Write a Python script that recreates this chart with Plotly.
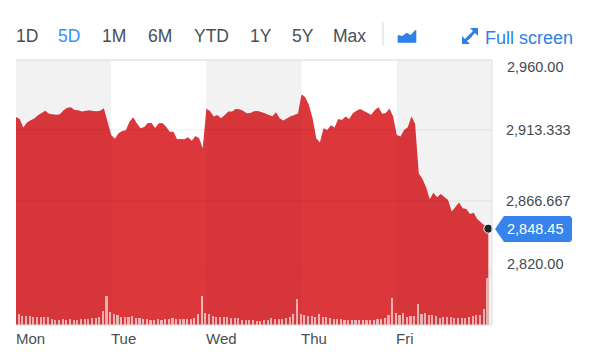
import plotly.graph_objects as go

# ---------- data ----------
price_mon = [2921.9, 2920.6, 2914.9, 2918.2, 2919.7, 2920.8, 2923.0, 2924.5, 2926.0, 2923.9, 2923.4, 2923.4, 2923.6,
             2926.3, 2928.0, 2928.2, 2926.5, 2926.3, 2925.4, 2925.8, 2926.3, 2925.8, 2925.6, 2926.0, 2927.6, 2918.8]
price_tue = [2910.0, 2907.6, 2911.1, 2912.7, 2913.1, 2918.8, 2921.7, 2917.7, 2914.4, 2915.3, 2917.9, 2917.9, 2914.6,
             2917.7, 2917.9, 2915.5, 2912.2, 2912.2, 2907.2, 2907.4, 2907.2, 2908.5, 2906.3, 2909.4, 2907.9, 2901.3]
price_wed = [2927.4, 2925.6, 2922.1, 2923.2, 2921.0, 2923.2, 2925.4, 2925.4, 2927.1, 2926.9, 2926.0, 2924.3, 2924.5,
             2925.6, 2925.8, 2925.2, 2924.1, 2923.0, 2922.3, 2924.9, 2921.0, 2919.5, 2921.0, 2922.3, 2923.2, 2924.1]
price_thu = [2936.8, 2934.8, 2929.8, 2921.0, 2907.9, 2905.2, 2914.4, 2913.3, 2916.4, 2914.9, 2920.6, 2919.9, 2922.1,
             2920.6, 2924.3, 2926.0, 2927.1, 2926.0, 2924.7, 2923.4, 2926.5, 2928.2, 2923.9, 2924.5, 2927.4, 2922.1]
price_fri = [2910.0, 2909.0, 2913.3, 2915.1, 2922.3, 2917.3, 2884.9, 2881.1, 2875.6, 2867.8, 2872.1, 2869.1, 2871.3,
             2869.5, 2867.3, 2859.7, 2862.9, 2865.6, 2861.9, 2861.4, 2858.1, 2859.0, 2854.6, 2852.4, 2850.7, 2848.45]

vol_mon = [40, 34, 28, 27, 26, 23, 23, 23, 23, 23, 18, 16, 15, 18, 16, 18, 15, 14, 17, 17, 17, 21, 21, 24, 41, 86]
vol_tue = [38, 33, 31, 25, 24, 24, 27, 21, 21, 18, 17, 16, 15, 18, 15, 17, 17, 20, 17, 18, 18, 17, 18, 22, 33, 86]
vol_wed = [37, 33, 28, 24, 25, 23, 23, 21, 22, 20, 15, 15, 15, 14, 13, 13, 15, 15, 22, 18, 18, 18, 21, 23, 33, 78]
vol_thu = [33, 30, 27, 26, 24, 32, 25, 25, 20, 18, 17, 17, 14, 14, 14, 14, 14, 15, 16, 14, 14, 17, 19, 20, 30, 80]
vol_fri = [36, 30, 35, 24, 27, 26, 62, 34, 36, 30, 30, 26, 20, 24, 24, 23, 22, 20, 20, 20, 24, 26, 30, 30, 47, 140]

day_labels = ["Mon", "Tue", "Wed", "Thu", "Fri"]
tick_values = [2913.333, 2866.667, 2820.0]
tick_labels = ["2,913.333", "2,866.667", "2,820.00"]
top_tick_label = "2,960.00"
last_label = "2,848.45"
range_buttons = ["1D", "5D", "1M", "6M", "YTD", "1Y", "5Y", "Max"]

# ---------- derived ----------
POINTS_PER_DAY = 26
prices = price_mon + price_tue + price_wed + price_thu + price_fri
volumes = vol_mon + vol_tue + vol_wed + vol_thu + vol_fri
xs = list(range(len(prices)))
day_starts = [i * POINTS_PER_DAY for i in range(len(day_labels))]

W, H = 600, 354
L, R, T, B = 16, 108, 60, 29
PW, PH = W - L - R, H - T - B


def px(x):
    return (x - L) / PW


def py(y):
    return 1 - (y - T) / PH


def path(points):
    return "M " + " L ".join(f"{px(a):.5f},{py(b):.5f}" for a, b in points) + " Z"


BLUE = "#2f7fe8"
DARK = "#474f57"
LABEL = "#45494f"
FONT = "Liberation Sans, Helvetica, Arial, sans-serif"

fig = go.Figure()
fig.add_trace(go.Scatter(x=xs, y=prices, mode="lines", line=dict(width=0), fill="tozeroy",
                         fillcolor="rgba(219,50,54,0.97)", hoverinfo="skip", showlegend=False))
fig.add_trace(go.Bar(x=xs, y=volumes, yaxis="y2", width=0.58, offset=-0.56,
                     marker=dict(color="rgba(255,255,255,0.62)", line=dict(width=0)),
                     hoverinfo="skip", showlegend=False))
fig.add_trace(go.Scatter(x=xs[-1:], y=prices[-1:], mode="markers",
                         marker=dict(size=9, color="#222427", line=dict(color="white", width=1)),
                         hoverinfo="skip", showlegend=False, cliponaxis=False))

shapes = []
# shaded alternate days: gray behind the area, a faint veil over it
for i in (0, 2, 4):
    x0, x1 = day_starts[i] - 0.02, day_starts[i] + POINTS_PER_DAY if i < 4 else len(xs)
    shapes.append(dict(type="rect", xref="x", yref="paper", x0=x0, x1=x1, y0=0, y1=1, layer="below",
                       line=dict(width=0), fillcolor="#f8f8f8"))
    shapes.append(dict(type="rect", xref="x", yref="paper", x0=x0, x1=x1, y0=0, y1=1, layer="above",
                       line=dict(width=0), fillcolor="rgba(10,10,20,0.022)"))
# grid lines
for v in tick_values:
    shapes.append(dict(type="line", xref="paper", yref="y", x0=0, x1=1, y0=v, y1=v, layer="above",
                       line=dict(color="rgba(40,20,40,0.08)", width=1)))
# plot frame
frame = "#d8d9de"
shapes += [
    dict(type="line", xref="paper", yref="paper", x0=0, x1=1, y0=1, y1=1, line=dict(color=frame, width=1.2)),
    dict(type="line", xref="paper", yref="paper", x0=1, x1=1, y0=0, y1=1, line=dict(color="#e2e3e7", width=1.2)),
    dict(type="line", xref="paper", yref="paper", x0=0, x1=1, y0=0, y1=0, line=dict(color="#dcdde2", width=1.2)),
]
# divider in toolbar
shapes.append(dict(type="line", xref="paper", yref="paper", x0=px(383), x1=px(383), y0=py(22), y1=py(46),
                   line=dict(color="#e3e5ea", width=1.5)))
# area icon
shapes.append(dict(type="path", xref="paper", yref="paper", line=dict(width=0), fillcolor=BLUE,
                   path=path([(397.7, 35), (402.3, 36), (406.7, 32.7), (410.7, 35), (415, 30.3), (416.3, 30.3),
                              (416.3, 42.7), (397.7, 42.7)])))
# full screen icon
shapes.append(dict(type="path", xref="paper", yref="paper", line=dict(width=0), fillcolor=BLUE,
                   path=path([(478, 28), (478, 36), (475, 33), (468, 40), (466, 38), (473, 31), (470, 28)])))
shapes.append(dict(type="path", xref="paper", yref="paper", line=dict(width=0), fillcolor=BLUE,
                   path=path([(462, 44), (462, 36), (465, 39), (470, 34.5), (472, 36.5), (467, 41), (470, 44)])))
# last price callout
shapes.append(dict(type="path", xref="paper", yref="paper", line=dict(width=0), fillcolor="#3583eb",
                   path=path([(495, 229), (504, 216), (570, 216), (572, 218), (572, 240), (570, 242),
                              (504, 242)])))
fig.update_layout(shapes=shapes)


annotations = []


def text(t, x, y, size, color, anchor="left", xref="paper", yref="paper", xshift=0):
    annotations.append(dict(text=t, x=x, y=y, xref=xref, yref=yref, xanchor=anchor, yanchor="middle",
                            showarrow=False, borderpad=0, xshift=xshift,
                            font=dict(family=FONT, size=size, color=color)))


button_x = [15, 57, 100.5, 146.5, 192.5, 248.5, 290.5, 331.5]
for label, x in zip(range_buttons, button_x):
    text(label, px(x), py(36), 17.5, "#3b8ff5" if label == "5D" else DARK)
text("Full screen", px(484), py(38), 18, BLUE)
for label, start in zip(day_labels, day_starts):
    text(label, start, py(338), 15, DARK, xref="x", xshift=-1.5)
text(top_tick_label, px(505.5), py(67), 14.5, LABEL)
text(tick_labels[2], px(505.5), py(264), 14.5, LABEL)
text(last_label, px(505.5), py(229), 14.5, "white")
fig.update_layout(annotations=annotations)

fig.update_layout(
    width=W, height=H, margin=dict(l=L, r=R, t=T, b=B), paper_bgcolor="white", plot_bgcolor="white",
    bargap=0, autosize=False,
    font=dict(family=FONT),
    xaxis=dict(range=[0, len(xs)], showgrid=False, zeroline=False, showticklabels=False, ticks="", showline=False,
               fixedrange=True),
    yaxis=dict(range=[2785.16, 2959.3], side="right", tickmode="array", tickvals=tick_values[:2],
               ticktext=tick_labels[:2], showgrid=False, zeroline=False, ticks="", showline=False,
               ticklabelstandoff=13, tickfont=dict(family=FONT, size=14.5, color=LABEL), fixedrange=True),
    yaxis2=dict(range=[0, 795], overlaying="y", side="right", visible=False, fixedrange=True),
)

fig.write_html("out.html", config=dict(displayModeBar=False),
               post_script="document.body.style.margin='0';document.documentElement.style.overflow='hidden';")
